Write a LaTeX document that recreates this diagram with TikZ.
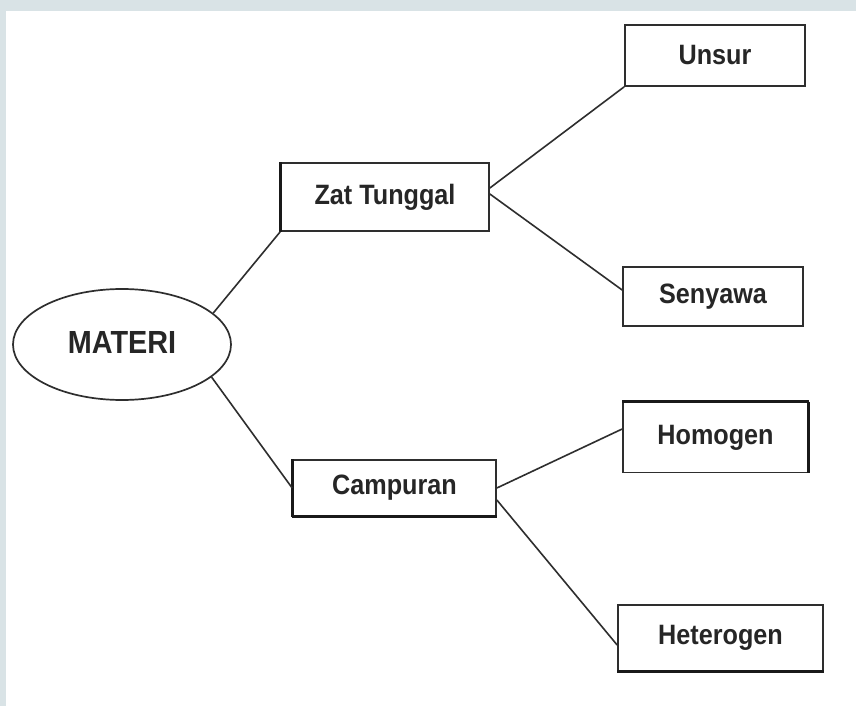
\documentclass[tikz,border=0pt]{standalone}
\usepackage{fontspec}
\setmainfont{Liberation Sans}[FakeStretch=0.9]
\usetikzlibrary{shapes.geometric}
\definecolor{band}{HTML}{D9E3E6}
\definecolor{ink}{HTML}{2E2E2E}
\tikzset{
  boxnode/.style={draw=ink, line width=1.7pt, fill=white, inner sep=0pt,
    font=\bfseries\fontsize{28}{30}\selectfont, text=black!85},
  ovalnode/.style={ellipse, draw=ink, line width=1.7pt, fill=white, inner sep=0pt,
    minimum width=218pt, minimum height=111pt,
    font=\bfseries\fontsize{32}{34}\selectfont, text=black!85},
  link/.style={draw=ink, line width=1.6pt},
  heavy/.style={draw=black!90, line width=3pt}
}
\begin{document}
\begin{tikzpicture}[x=1pt,y=-1pt]
\useasboundingbox (0,0) rectangle (856,706);
\fill[white] (0,0) rectangle (856,706);
\fill[band] (0,0) rectangle (856,11);
\fill[band] (0,0) rectangle (6,706);

\node[ovalnode] (materi) at (122,344.5) {\raisebox{4pt}{MATERI}};
\node[boxnode, minimum width=208pt, minimum height=68pt] (zat) at (385,197) {Zat Tunggal};
\node[boxnode, minimum width=203pt, minimum height=56pt] (camp) at (394.5,488) {Campuran};
\node[boxnode, minimum width=180pt, minimum height=61pt] (unsur) at (715,55.5) {Unsur};
\node[boxnode, minimum width=180pt, minimum height=59pt] (senyawa) at (713,296.5) {Senyawa};
\node[boxnode, minimum width=185pt, minimum height=70pt] (homogen) at (715.5,437.5) {Homogen};
\node[boxnode, minimum width=205pt, minimum height=66pt] (hetero) at (720.5,638) {Heterogen};

% heavier edges seen in the scan
\draw[heavy] (zat.south west) -- (zat.north west);
\draw[heavy] (camp.south west) -- (camp.north west);
\draw[heavy] (camp.south west) -- (camp.south east);
\draw[heavy] (hetero.south west) -- (hetero.south east);
\draw[heavy] (homogen.north west) -- (homogen.north east);
\draw[heavy] (homogen.north east) -- (homogen.south east);

\draw[link] (materi.19) -- (zat.south west);
\draw[link] (materi.-20) -- (camp.west);
\draw[link] ([yshift=9pt]zat.east) -- (unsur.south west);
\draw[link] ([yshift=3pt]zat.east) -- ([yshift=6.5pt]senyawa.west);
\draw[link] (camp.east) -- ([yshift=8.5pt]homogen.west);
\draw[link] ([yshift=-12pt]camp.east) -- ([yshift=-7pt]hetero.west);
\end{tikzpicture}
\end{document}
